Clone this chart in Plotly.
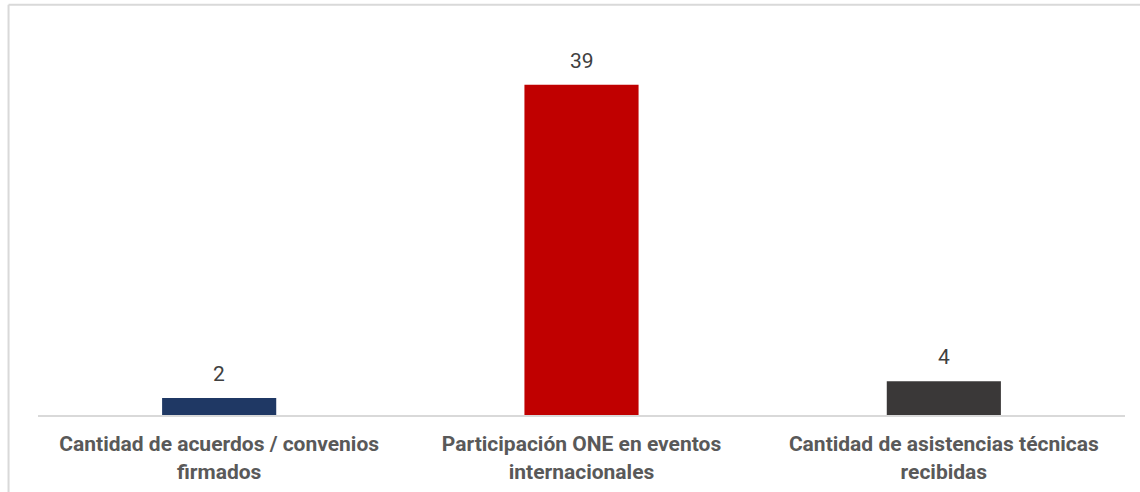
import plotly.graph_objects as go

categories = [
    "Cantidad de acuerdos / convenios<br>firmados",
    "Participación ONE en eventos<br>internacionales",
    "Cantidad de asistencias técnicas<br>recibidas",
]
values = [2, 39, 4]
colors = ["#1f3864", "#c00000", "#3a3838"]

fig = go.Figure()
fig.add_trace(go.Bar(
    x=categories, y=values, marker=dict(color=colors, line=dict(width=0)),
    hoverinfo="skip",
))
for c, v in zip(categories, values):
    fig.add_annotation(x=c, y=v, text=str(v), showarrow=False, yanchor="bottom",
                       yshift=10, font=dict(family="Roboto", size=21, color="#404040"))

fig.update_layout(
    width=1140, height=492,
    margin=dict(l=38, r=15, t=34, b=77),
    paper_bgcolor="white", plot_bgcolor="white",
    bargap=0.685, showlegend=False,
    font=dict(family="Roboto"),
    xaxis=dict(showline=True, linecolor="#d9d9d9", linewidth=2, showgrid=False,
               ticks="", ticklabelstandoff=9, automargin=False,
               tickfont=dict(family="Roboto", size=21, color="#595959", weight="bold")),
    yaxis=dict(range=[0, 45], visible=False, automargin=False),
    shapes=[
        dict(type="line", xref="paper", yref="paper", x0=-0.0271, x1=1.1, y0=1.077, y1=1.077,
             line=dict(color="#d9d9d9", width=2)),
        dict(type="line", xref="paper", yref="paper", x0=-0.0271, x1=-0.0271, y0=1.077, y1=-0.3,
             line=dict(color="#d9d9d9", width=2)),
    ],
)
fig.write_html("out.html", config={"displayModeBar": False},
               post_script="document.body.style.margin='0px';document.body.style.overflow='hidden';")
